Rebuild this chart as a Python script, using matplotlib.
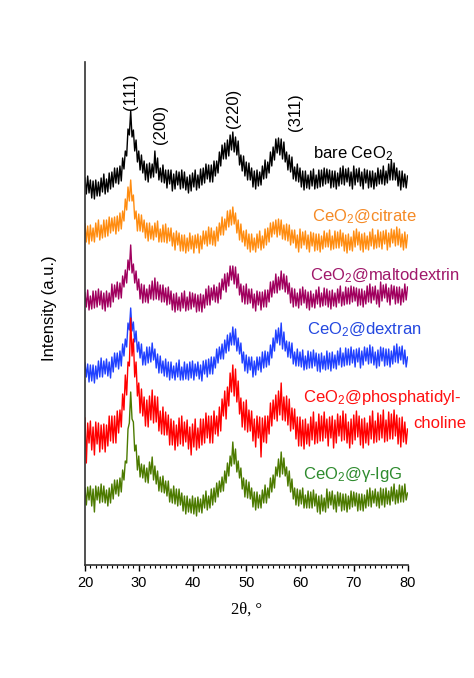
import numpy as np
import matplotlib
matplotlib.use("Agg")
import matplotlib.pyplot as plt

plt.rcParams["font.family"] = ["Liberation Sans", "DejaVu Sans"]
plt.rcParams["mathtext.default"] = "regular"

# 2-theta grid of the readings (deg), 0.25 deg apart
two_theta = np.arange(20.0, 80.001, 0.25)

# intensities (a.u., already stacked), one row = 5 deg
bare = [
    387, 371, 389, 372, 385, 367, 384, 366, 385, 369, 383, 369, 387, 373, 391, 371, 386, 373, 392, 376,
    393, 378, 397, 382, 397, 381, 399, 384, 407, 396, 414, 409, 436, 430, 454, 428, 435, 414, 425, 403,
    414, 395, 410, 392, 404, 385, 401, 383, 402, 387, 401, 388, 414, 392, 407, 385, 397, 383, 400, 382,
    395, 377, 395, 381, 395, 374, 391, 376, 394, 380, 393, 376, 395, 377, 393, 375, 388, 372, 390, 374,
    392, 378, 395, 375, 390, 377, 396, 380, 397, 382, 401, 386, 400, 383, 400, 383, 404, 389, 404, 392,
    413, 399, 420, 406, 422, 406, 425, 409, 430, 415, 433, 413, 428, 410, 424, 400, 410, 394, 409, 389,
    403, 385, 402, 385, 397, 378, 394, 376, 395, 379, 393, 380, 399, 386, 405, 387, 403, 392, 413, 399,
    418, 405, 426, 412, 427, 410, 426, 406, 423, 403, 413, 395, 410, 393, 408, 386, 398, 384, 401, 383,
    397, 378, 394, 375, 394, 377, 390, 376, 394, 379, 396, 376, 390, 377, 395, 378, 395, 379, 397, 381,
    396, 382, 395, 377, 394, 378, 394, 376, 392, 379, 397, 381, 399, 380, 396, 383, 397, 379, 393, 376,
    399, 380, 396, 383, 397, 379, 393, 376, 396, 382, 395, 377, 394, 378, 394, 376, 392, 379, 397, 381,
    395, 381, 399, 380, 394, 382, 401, 385, 405, 385, 402, 385, 397, 379, 394, 375, 394, 378, 391, 377,
    389,
]
citrate = [
    341, 323, 339, 321, 340, 324, 337, 323, 342, 328, 345, 325, 340, 327, 345, 328, 345, 329, 348, 332,
    347, 334, 348, 331, 349, 334, 352, 336, 354, 344, 366, 355, 378, 364, 385, 364, 370, 346, 354, 334,
    351, 334, 350, 333, 345, 327, 342, 324, 342, 326, 339, 325, 342, 328, 344, 323, 336, 323, 340, 323,
    341, 322, 337, 324, 337, 319, 332, 315, 334, 320, 332, 314, 330, 314, 330, 312, 327, 314, 332, 316,
    329, 312, 330, 317, 331, 312, 329, 316, 334, 321, 334, 319, 338, 321, 337, 320, 334, 319, 338, 324,
    342, 330, 348, 330, 346, 335, 354, 338, 355, 340, 358, 341, 352, 332, 345, 325, 341, 323, 334, 319,
    335, 316, 331, 313, 331, 315, 327, 313, 331, 317, 334, 315, 329, 317, 336, 320, 337, 323, 342, 328,
    343, 331, 345, 328, 346, 330, 345, 326, 340, 325, 341, 324, 340, 320, 335, 322, 335, 317, 330, 313,
    336, 317, 333, 320, 334, 316, 330, 313, 333, 319, 332, 314, 331, 315, 331, 313, 329, 316, 334, 318,
    332, 318, 335, 315, 329, 316, 334, 317, 333, 317, 335, 319, 332, 314, 330, 312, 331, 315, 328, 314,
    334, 318, 336, 320, 333, 315, 331, 313, 332, 316, 329, 315, 333, 319, 336, 316, 330, 317, 335, 318,
    333, 316, 334, 321, 335, 315, 332, 318, 336, 322, 335, 319, 338, 320, 336, 318, 331, 315, 333, 317,
    330,
]
maltodextrin = [
    272, 258, 275, 255, 269, 256, 274, 257, 274, 258, 276, 260, 274, 256, 272, 254, 274, 258, 272, 258,
    281, 263, 280, 268, 283, 266, 282, 267, 289, 278, 295, 282, 305, 295, 320, 292, 301, 282, 294, 275,
    286, 266, 281, 262, 280, 263, 276, 262, 280, 266, 284, 265, 287, 266, 283, 265, 280, 263, 280, 263,
    277, 260, 278, 261, 274, 255, 271, 253, 272, 255, 268, 254, 272, 257, 274, 254, 268, 255, 273, 256,
    272, 258, 271, 253, 270, 254, 271, 253, 270, 257, 276, 260, 279, 260, 277, 265, 280, 263, 278, 262,
    282, 266, 286, 275, 291, 273, 292, 279, 299, 285, 299, 281, 298, 277, 291, 270, 281, 263, 279, 261,
    281, 261, 276, 262, 276, 257, 271, 254, 274, 260, 273, 255, 273, 258, 275, 258, 275, 263, 283, 268,
    284, 272, 291, 272, 288, 275, 294, 276, 291, 273, 289, 271, 282, 262, 277, 258, 276, 259, 272, 257,
    276, 260, 278, 262, 275, 257, 273, 255, 274, 258, 271, 257, 275, 261, 278, 258, 272, 259, 277, 260,
    276, 258, 274, 256, 275, 259, 272, 258, 276, 262, 279, 259, 273, 260, 278, 261, 277, 261, 279, 263,
    278, 264, 277, 259, 276, 260, 276, 258, 274, 261, 279, 263, 281, 262, 278, 265, 279, 261, 275, 258,
    283, 264, 280, 267, 281, 263, 277, 260, 280, 266, 279, 261, 278, 262, 278, 260, 276, 263, 281, 265,
    278,
]
dextran = [
    202, 188, 201, 183, 200, 184, 200, 182, 199, 186, 204, 188, 207, 188, 204, 191, 206, 189, 203, 187,
    208, 193, 212, 198, 212, 196, 214, 199, 221, 209, 226, 218, 242, 235, 257, 234, 243, 223, 234, 213,
    223, 207, 221, 200, 213, 200, 218, 202, 218, 203, 222, 205, 216, 197, 211, 192, 209, 192, 204, 189,
    206, 188, 203, 185, 203, 187, 199, 185, 202, 188, 205, 185, 198, 185, 203, 186, 201, 185, 203, 187,
    204, 185, 201, 189, 203, 186, 200, 184, 204, 191, 205, 188, 206, 191, 208, 191, 208, 197, 216, 202,
    218, 206, 221, 206, 225, 212, 230, 214, 232, 220, 238, 220, 236, 214, 227, 211, 222, 202, 213, 194,
    210, 192, 208, 195, 208, 188, 204, 190, 208, 195, 208, 193, 213, 197, 214, 198, 213, 200, 220, 207,
    227, 214, 235, 222, 237, 220, 242, 216, 233, 214, 224, 208, 223, 207, 222, 201, 213, 199, 216, 199,
    213, 198, 215, 195, 209, 196, 214, 197, 213, 197, 215, 199, 212, 194, 211, 193, 212, 196, 209, 195,
    214, 196, 212, 194, 213, 197, 210, 196, 214, 200, 217, 198, 212, 199, 217, 200, 216, 200, 218, 202,
    215, 198, 216, 203, 217, 197, 214, 200, 218, 204, 217, 201, 220, 202, 218, 200, 213, 197, 215, 199,
    218, 204, 217, 199, 216, 200, 216, 198, 214, 201, 219, 203, 221, 202, 218, 205, 219, 201, 215, 198,
    208,
]
phosphatidylcholine = [
    147, 102, 142, 122, 144, 115, 138, 110, 143, 121, 142, 113, 140, 116, 141, 113, 140, 119, 149, 124,
    149, 122, 149, 122, 154, 132, 155, 138, 171, 155, 190, 170, 203, 199, 247, 209, 226, 188, 203, 169,
    182, 152, 176, 149, 168, 139, 165, 138, 169, 145, 175, 142, 169, 143, 168, 134, 154, 131, 158, 130,
    153, 130, 150, 120, 146, 120, 144, 115, 140, 119, 147, 121, 149, 119, 143, 123, 145, 116, 138, 110,
    141, 118, 146, 115, 137, 117, 146, 120, 146, 122, 152, 127, 149, 122, 149, 122, 154, 131, 149, 129,
    158, 134, 166, 149, 174, 146, 178, 159, 192, 173, 200, 169, 196, 163, 184, 151, 167, 138, 163, 135,
    165, 133, 155, 134, 154, 124, 146, 118, 149, 127, 148, 108, 147, 123, 149, 122, 149, 131, 162, 139,
    165, 146, 170, 144, 174, 150, 182, 145, 168, 144, 169, 140, 166, 134, 157, 136, 156, 126, 148, 119,
    148, 119, 145, 116, 146, 121, 141, 119, 148, 125, 153, 121, 143, 122, 151, 124, 149, 124, 153, 127,
    146, 119, 148, 127, 149, 117, 145, 122, 151, 129, 149, 124, 154, 125, 151, 122, 143, 117, 146, 121,
    150, 125, 154, 128, 149, 120, 146, 117, 147, 122, 142, 120, 149, 126, 154, 122, 144, 123, 152, 125,
    150, 127, 155, 123, 145, 124, 153, 126, 151, 126, 155, 129, 150, 121, 147, 118, 148, 123, 143, 121,
    136,
]
igg = [
    77, 60, 78, 65, 79, 59, 76, 53, 79, 65, 78, 62, 81, 63, 79, 62, 75, 59, 77, 62,
    81, 66, 85, 71, 85, 69, 87, 73, 95, 85, 104, 102, 136, 142, 173, 146, 143, 114, 120, 95,
    109, 88, 101, 87, 100, 83, 97, 82, 103, 91, 108, 85, 99, 81, 94, 74, 88, 73, 89, 72,
    84, 69, 84, 63, 76, 62, 79, 61, 76, 59, 76, 60, 72, 54, 69, 51, 69, 53, 66, 52,
    69, 51, 67, 49, 68, 53, 66, 52, 70, 57, 74, 55, 69, 57, 76, 60, 77, 63, 82, 68,
    84, 73, 88, 74, 94, 82, 102, 89, 109, 99, 123, 101, 116, 93, 104, 87, 97, 76, 87, 68,
    85, 67, 83, 66, 77, 58, 73, 55, 73, 57, 70, 57, 75, 62, 80, 62, 77, 67, 87, 73,
    90, 77, 98, 89, 106, 88, 113, 91, 107, 89, 98, 79, 94, 73, 86, 66, 77, 60, 76, 59,
    75, 61, 77, 57, 70, 57, 74, 57, 73, 57, 75, 59, 71, 53, 69, 51, 70, 54, 67, 53,
    76, 57, 73, 60, 74, 56, 70, 53, 73, 59, 72, 54, 71, 55, 71, 53, 69, 56, 74, 58,
    73, 59, 72, 54, 71, 55, 71, 54, 70, 57, 75, 59, 77, 58, 74, 62, 76, 59, 73, 57,
    77, 60, 76, 58, 77, 61, 74, 60, 78, 64, 81, 61, 75, 62, 80, 63, 79, 63, 81, 65,
    72,
]

series = [bare, citrate, maltodextrin, dextran, phosphatidylcholine, igg]
line_colors = ["#000000", "#FF8C10", "#A0005E", "#2040FF", "#FF0000", "#4C7A00"]
text_colors = ["#000000", "#F58A25", "#A0186A", "#2448E0", "#FF1010", "#2E8B2E"]
labels = [
    "bare CeO$_2$",
    "CeO$_2$@citrate",
    "CeO$_2$@maltodextrin",
    "CeO$_2$@dextran",
    "CeO$_2$@phosphatidyl-",
    "CeO$_2$@γ-IgG",
]
label_xy = [(62.4, 407), (62.2, 344), (61.9, 285), (61.3, 231), (60.6, 163), (60.6, 86)]
extra_label = ("choline", 81.0, 137)   # second line of the phosphatidylcholine label

hkl = ["(111)", "(200)", "(220)", "(311)"]
hkl_xy = [(28.5, 473), (34.0, 441), (47.7, 457), (59.2, 453)]

fig = plt.figure(figsize=(4.74, 6.78), dpi=100)
ax = fig.add_axes([85 / 474, 113 / 678, 322.5 / 474, 503 / 678])

for y, c in zip(series, line_colors):
    ax.plot(two_theta, y, color=c, lw=1.0)

for (lx, ly), txt, c in zip(label_xy, labels, text_colors):
    ax.text(lx, ly, txt, color=c, fontsize=12, ha="left", va="baseline")
ax.text(extra_label[1], extra_label[2], extra_label[0], color=text_colors[4],
        fontsize=12, ha="left", va="baseline")

for (hx, hy), txt in zip(hkl_xy, hkl):
    ax.text(hx, hy, txt, rotation=90, fontsize=12, ha="center", va="center")

ax.set_xlim(20, 80)
ax.set_ylim(0, 503)
ax.set_xticks(np.arange(20, 81, 10))
ax.set_xticks(np.arange(20, 81, 1), minor=True)
ax.set_yticks([])
ax.tick_params(axis="x", which="major", direction="out", length=4.5, width=1, labelsize=10.5)
ax.tick_params(axis="x", which="minor", direction="out", length=2.2, width=0.8)
for s in ["top", "right"]:
    ax.spines[s].set_visible(False)
for s in ["left", "bottom"]:
    ax.spines[s].set_linewidth(1.2)
    ax.spines[s].set_color("#333333")

ax.set_xlabel("2θ, °", family=["Liberation Serif", "DejaVu Serif"], fontsize=12, labelpad=8)
ax.set_ylabel("Intensity (a.u.)", fontsize=12)
ax.yaxis.set_label_coords(-0.087, 0.51)

fig.savefig("out.png", dpi=100)
